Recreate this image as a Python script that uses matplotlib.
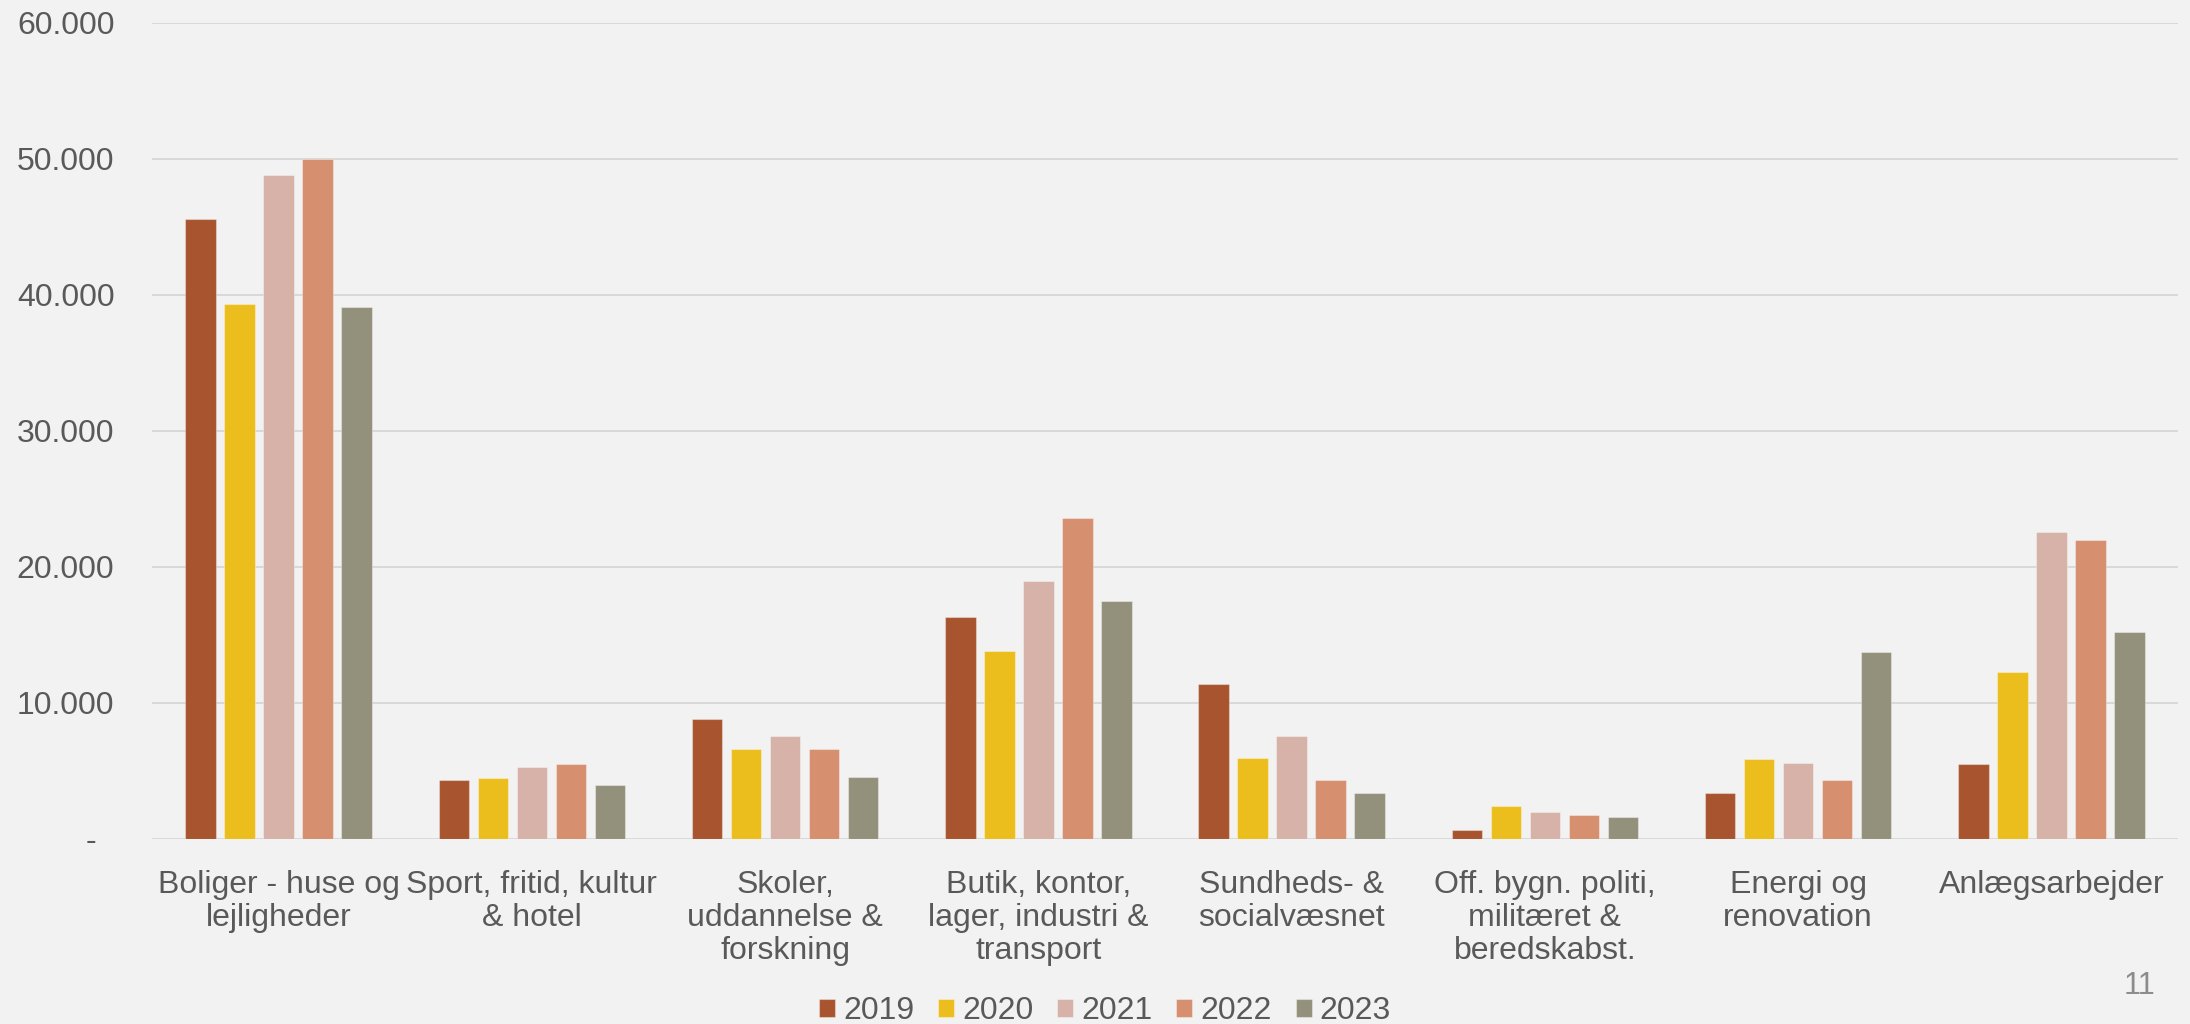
import matplotlib.pyplot as plt
import numpy as np

# kategorier og år
kategorier = [
    "Boliger - huse og\nlejligheder",
    "Sport, fritid, kultur\n& hotel",
    "Skoler,\nuddannelse &\nforskning",
    "Butik, kontor,\nlager, industri &\ntransport",
    "Sundheds- &\nsocialvæsnet",
    "Off. bygn. politi,\nmilitæret &\nberedskabst.",
    "Energi og\nrenovation",
    "Anlægsarbejder",
]
aar = ["2019", "2020", "2021", "2022", "2023"]

v2019 = [45600, 4300, 8800, 16300, 11400, 650, 3350, 5500]
v2020 = [39300, 4500, 6600, 13800, 5950, 2450, 5850, 12300]
v2021 = [48800, 5300, 7600, 18950, 7600, 1950, 5600, 22550]
v2022 = [50000, 5500, 6650, 23600, 4350, 1800, 4300, 22000]
v2023 = [39100, 4000, 4550, 17500, 3400, 1600, 13750, 15200]
serier = [v2019, v2020, v2021, v2022, v2023]

farver = ["#A8552F", "#EBBE1E", "#D6B2A8", "#D68F6F", "#93917C"]

plt.rcParams['font.family'] = ['Liberation Sans', 'DejaVu Sans']
tekstfarve = "#595959"
baggrund = "#F2F2F2"
fs = 23

fig = plt.figure(figsize=(21.9, 10.24), dpi=100, facecolor=baggrund)
ax = fig.add_axes([152 / 2190, 1 - 839 / 1024, 2026 / 2190, (839 - 22.7) / 1024])
ax.set_facecolor(baggrund)

x = np.arange(len(kategorier))
trin = 0.154
bredde = 0.121
for i, (vals, farve, navn) in enumerate(zip(serier, farver, aar)):
    ax.bar(x + (i - 2) * trin, vals, width=bredde, color=farve, label=navn,
           edgecolor=(1, 1, 1, 0.35), linewidth=0.8, zorder=3)

ax.set_xlim(-0.5, len(kategorier) - 0.5)
ax.set_ylim(0, 60000)
yt = np.arange(0, 60001, 10000)
ax.set_yticks(yt)
ax.set_yticklabels(["-  "] + [f"{v:,}".replace(",", ".") for v in yt[1:]])
ax.set_xticks(x)
ax.set_xticklabels(kategorier, linespacing=1.15)

ax.grid(axis='y', color="#D9D9D9", linewidth=1.4, zorder=0)
ax.tick_params(axis='y', length=0, pad=27, labelsize=fs, labelcolor=tekstfarve)
ax.tick_params(axis='x', length=0, pad=22, labelsize=fs, labelcolor=tekstfarve)
for s in ax.spines.values():
    s.set_visible(False)

fig.legend(loc='center', bbox_to_anchor=(1105 / 2190, 1 - 1011 / 1024), ncol=5,
           frameon=False, fontsize=fs, labelcolor=tekstfarve,
           handlelength=0.5, handleheight=0.5, handletextpad=0.25,
           columnspacing=0.75, borderaxespad=0, borderpad=0)

fig.text(2140 / 2190, 1 - 986 / 1024, "11", fontsize=22, color="#8C8C8C",
         ha='center', va='center')

fig.savefig("out.png", dpi=100, facecolor=baggrund)
